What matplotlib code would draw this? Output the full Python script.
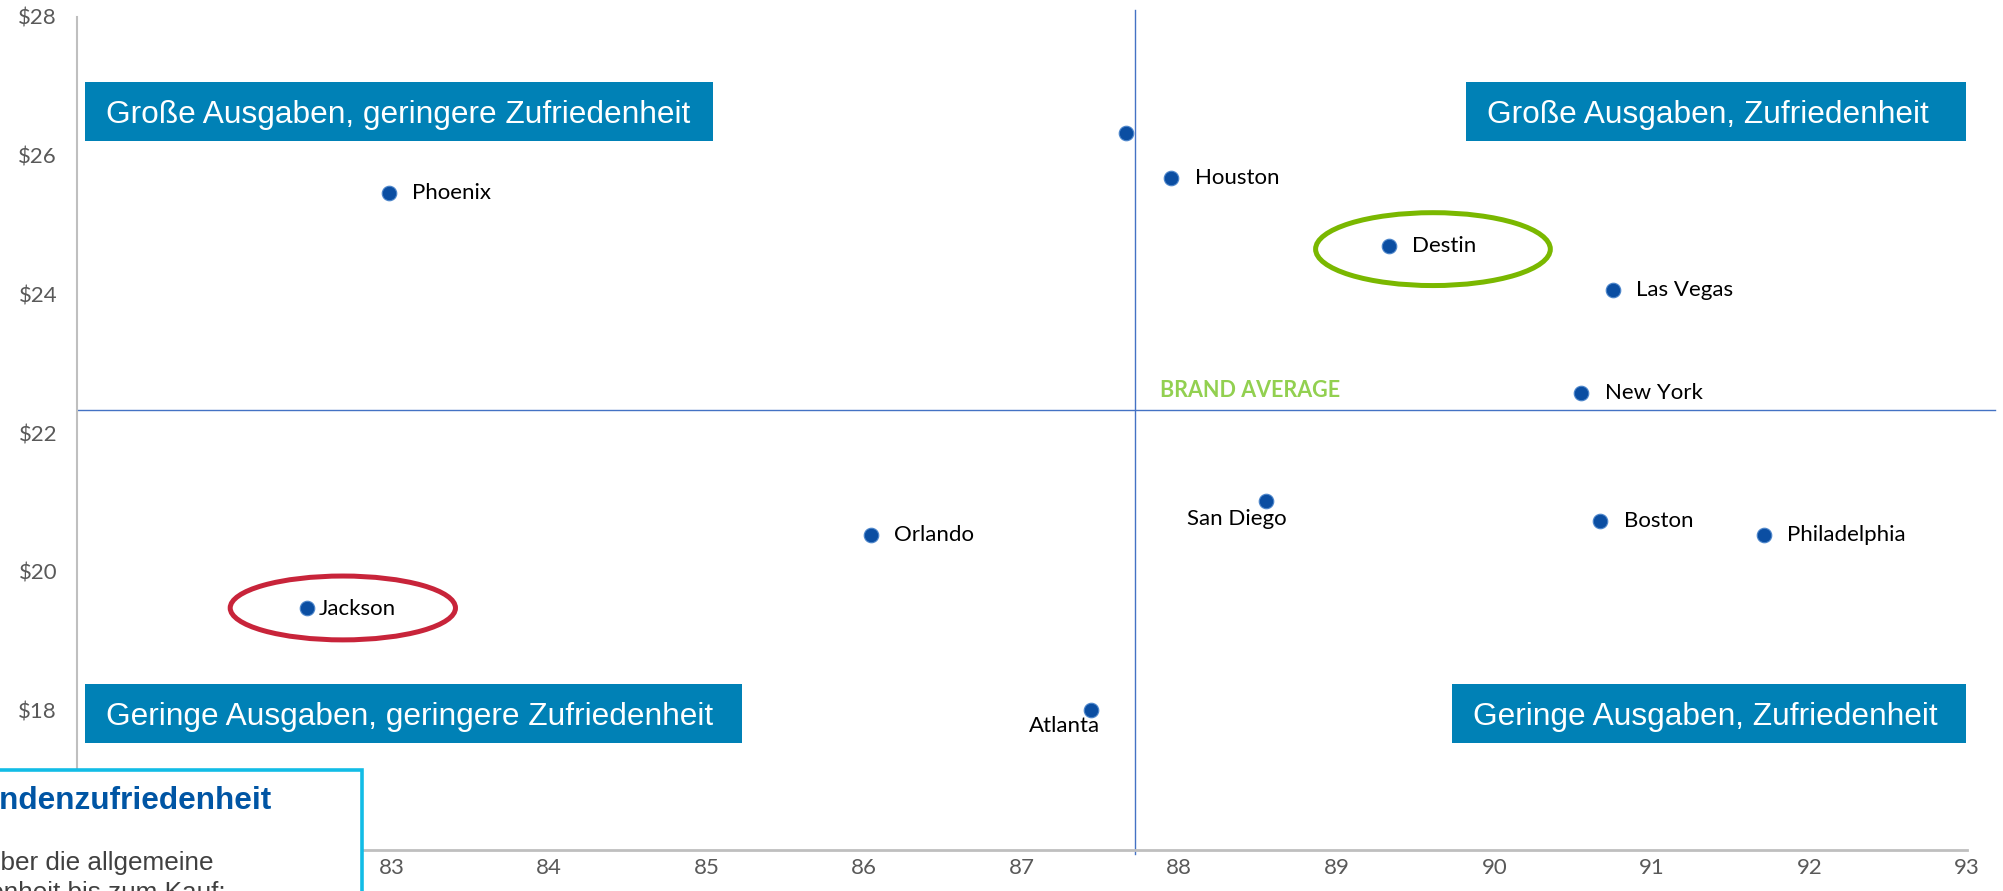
import matplotlib.pyplot as plt
from matplotlib.patches import Ellipse, Rectangle

# data: satisfaction score vs. spend
cities = ["Phoenix", "Houston", "Destin", "Las Vegas", "New York", "San Diego",
          "Boston", "Philadelphia", "Orlando", "Jackson", "Atlanta", ""]
satisfaction = [82.98, 87.95, 89.33, 90.75, 90.55, 88.55,
                90.67, 91.71, 86.04, 82.46, 87.44, 87.66]
spend = [25.46, 25.68, 24.69, 24.06, 22.57, 21.02,
         20.73, 20.53, 20.53, 19.48, 18.01, 26.32]

avg_satisfaction = 87.72
avg_spend = 22.33

# ticks under the info box (81, 82, $16) are hidden in the original anyway
x_ticks = list(range(83, 94))
y_ticks = list(range(18, 29, 2))

quadrants = ["Große Ausgaben, geringere Zufriedenheit", "Große Ausgaben, Zufriedenheit",
             "Geringe Ausgaben, geringere Zufriedenheit", "Geringe Ausgaben, Zufriedenheit"]

W, H = 2003, 891
fig = plt.figure(figsize=(W / 100, H / 100), dpi=100)
ax = fig.add_axes([76.6 / W, 1 - 849.5 / H, (1967 - 76.6) / W, (849.5 - 16.6) / H])

label_font = "Lato"
grey = "#595959"
blue_dot = "#0B4EA2"

ax.set_xlim(81, 93)
ax.set_ylim(16, 28)
ax.set_xticks(x_ticks)
ax.set_yticks(y_ticks)
ax.set_yticklabels(["$%d" % v for v in y_ticks])
ax.tick_params(length=0, labelsize=16, labelcolor=grey)
ax.tick_params(axis="y", pad=14)
ax.tick_params(axis="x", pad=6)
for t in ax.get_xticklabels() + ax.get_yticklabels():
    t.set_fontfamily(label_font)
for s in ["top", "right"]:
    ax.spines[s].set_visible(False)
ax.spines["left"].set_color("#BFBFBF")
ax.spines["left"].set_linewidth(1.5)
ax.spines["bottom"].set_color("#BFBFBF")
ax.spines["bottom"].set_linewidth(2)

# brand average lines
ax.plot([81, 93.18], [avg_spend, avg_spend], color="#4472C4", lw=1, clip_on=False, zorder=2)
ax.plot([avg_satisfaction, avg_satisfaction], [15.94, 28.1], color="#4472C4", lw=1,
        clip_on=False, zorder=2)
ax.text(avg_satisfaction + 0.16, avg_spend + 0.29, "BRAND AVERAGE", color="#92D050",
        fontsize=15.5, fontweight="bold", family=label_font, va="center", ha="left")

# points
ax.scatter(satisfaction, spend, s=110, color=blue_dot, edgecolor="#4D86CB",
           linewidth=0.8, zorder=4)

for name, x, y in zip(cities, satisfaction, spend):
    if name == "":
        continue
    if name == "San Diego":
        off, ha, va = (-21, -13), "center", "center"
    elif name == "Atlanta":
        off, ha, va = (-19.5, -11.5), "center", "center"
    elif name == "Jackson":
        off, ha, va = (9, -1), "left", "center"
    else:
        off, ha, va = (17, 0), "left", "center"
    ax.annotate(name, (x, y), xytext=off, textcoords="offset points", ha=ha, va=va,
                fontsize=16, family=label_font, color="black", zorder=5)

# highlight ellipses
i = cities.index("Destin")
ax.add_patch(Ellipse((satisfaction[i] + 0.28, spend[i] - 0.04), 1.49, 1.05,
                     fill=False, edgecolor="#7AB800", lw=3.6, zorder=3))
i = cities.index("Jackson")
ax.add_patch(Ellipse((satisfaction[i] + 0.23, spend[i]), 1.43, 0.92,
                     fill=False, edgecolor="#C8243A", lw=3.6, zorder=3))


def fig_box(x0, y0, x1, y1, **kw):
    r = Rectangle((x0 / W, 1 - y1 / H), (x1 - x0) / W, (y1 - y0) / H,
                  transform=fig.transFigure, **kw)
    fig.add_artist(r)
    return r


# quadrant labels
boxes = [(85, 82, 713, 141), (1466, 82, 1966, 141),
         (85, 684, 742, 743), (1452, 684, 1966, 743)]
for text, (x0, y0, x1, y1) in zip(quadrants, boxes):
    fig_box(x0, y0, x1, y1, facecolor="#0081B6", edgecolor="none", zorder=6)
    fig.text((x0 + 21) / W, 1 - (y0 + y1) / 2 / H, text, color="white",
             fontsize=22.8, family="Liberation Sans", ha="left", va="center_baseline",
             zorder=7)

# info box in the lower left corner (cut off by the page edge)
fig_box(-20, 770, 362, 940, facecolor="white", edgecolor="#12BCE6", lw=2.6, zorder=8)
fig.text(272 / W, 1 - 809 / H, "Kundenzufriedenheit", color="#0055A4",
         fontsize=22.7, fontweight="bold", family="Liberation Sans",
         ha="right", va="baseline", zorder=9)
fig.text(214 / W, 1 - 870 / H, "über die allgemeine", color="#404040",
         fontsize=18.8, family="Liberation Sans", ha="right", va="baseline", zorder=9)
fig.text(226 / W, 1 - 900 / H, "Zufriedenheit bis zum Kauf:", color="#404040",
         fontsize=18.8, family="Liberation Sans", ha="right", va="baseline", zorder=9)

fig.savefig("out.png", dpi=100)
